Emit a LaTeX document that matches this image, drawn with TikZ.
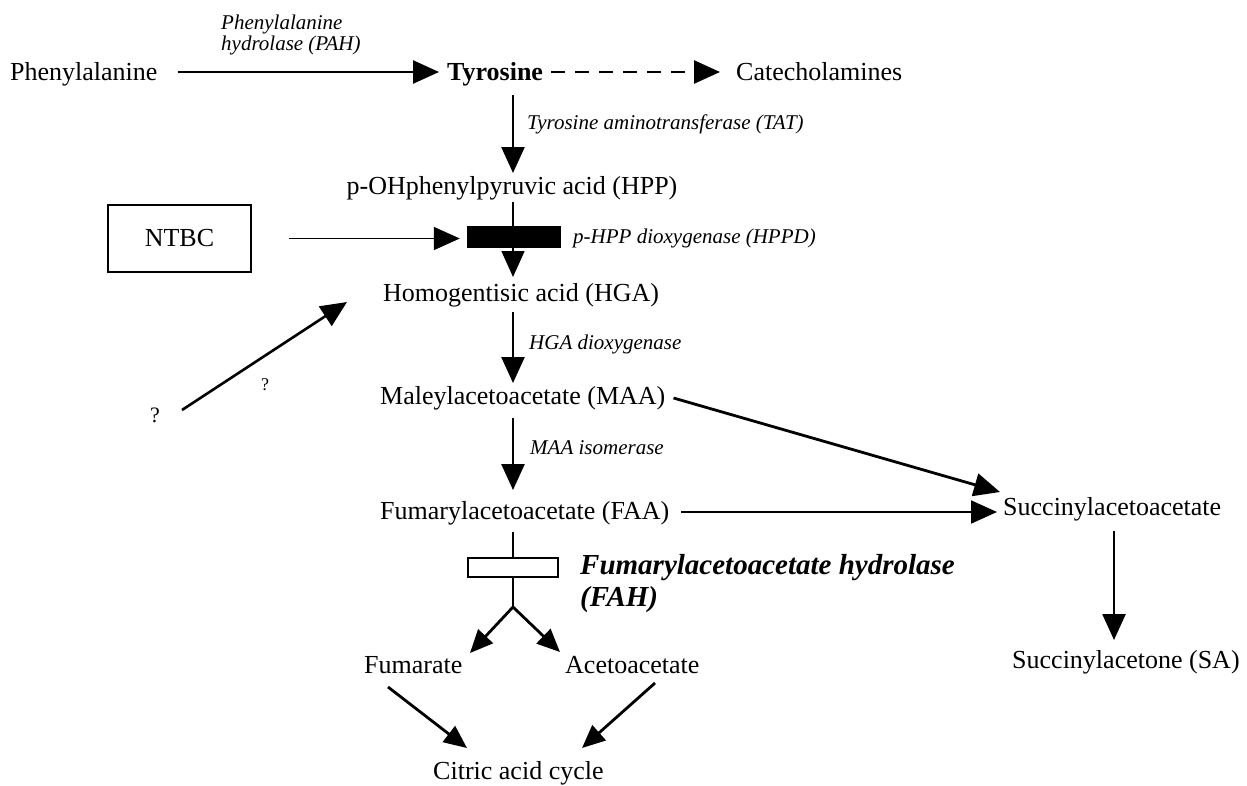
\documentclass[tikz,border=0pt]{standalone}
\usepackage{fontspec}
\setmainfont{Liberation Serif}
\usetikzlibrary{arrows.meta,calc}
\begin{document}
\begin{tikzpicture}[x=1pt,y=-1pt,
  txt/.style={inner sep=0pt, anchor=base west, font=\fontsize{26}{30}\selectfont},
  ctxt/.style={inner sep=0pt, anchor=base, font=\fontsize{26}{30}\selectfont},
  lbl/.style={inner sep=0pt, anchor=base west, align=left, font=\fontsize{21}{21}\selectfont\itshape},
  fahlbl/.style={inner sep=0pt, anchor=base west, align=left, font=\fontsize{29}{32}\selectfont\bfseries\itshape},
  arr/.style={line width=2.6pt, -{Triangle[length=26pt,width=23pt]}},
  thinarr/.style={line width=1.7pt, -{Triangle[length=26pt,width=23pt]}},
  forkarr/.style={line width=2.8pt, -{Triangle[length=23pt,width=20pt]}},
  dasharr/.style={line width=2.6pt, dash pattern=on 14pt off 10pt, -{Triangle[length=26pt,width=23pt]}},
  thinline/.style={line width=1.5pt},
  blockbar/.style={fill=black, draw=black, inner sep=0pt, minimum width=93pt, minimum height=21pt},
  openbar/.style={fill=white, draw=black, line width=2pt, inner sep=0pt, minimum width=90pt, minimum height=19pt},
  ntbcbox/.style={draw=black, line width=1.6pt, inner sep=0pt, minimum width=143pt, minimum height=67pt, font=\fontsize{26}{30}\selectfont}
]
\useasboundingbox[fill=white] (0,0) rectangle (1247,785);

\coordinate (spine) at (513,0);
\coordinate (sax) at (1114,0);

% nodes
\node[txt] (phe) at (10,80) {Phenylalanine};
\node[txt, font=\fontsize{26}{30}\selectfont\bfseries] (tyr) at (447,80) {Tyrosine};
\node[txt] (cat) at (736,80) {Catecholamines};
\node[lbl] (pah) at (221,50) {Phenylalanine\\hydrolase (PAH)};
\node[lbl] (tat) at (527,129) {Tyrosine aminotransferase (TAT)};
\node[ctxt] (hpp) at (512,194) {p-OHphenylpyruvic acid (HPP)};
\node[blockbar] (bar) at (513.5,236.5) {};
\node[lbl] (hppd) at (573,243) {p-HPP dioxygenase (HPPD)};
\node[ntbcbox] (ntbc) at (179.5,238.5) {NTBC};
\node[txt] (hga) at (383,301) {Homogentisic acid (HGA)};
\node[lbl] (hgad) at (529,349) {HGA dioxygenase};
\node[inner sep=0pt, font=\fontsize{22}{24}\selectfont] (q1) at (155,415) {?};
\node[inner sep=0pt, font=\fontsize{18}{20}\selectfont] (q2) at (265,385) {?};
\node[txt] (maa) at (380,404) {Maleylacetoacetate (MAA)};
\node[lbl] (maai) at (530,454) {MAA isomerase};
\node[txt] (faa) at (380,519) {Fumarylacetoacetate (FAA)};
\node[txt] (saa) at (1003,515) {Succinylacetoacetate};
\node[txt] (sa) at (1012,668) {Succinylacetone (SA)};
\node[openbar] (fah) at (513,567) {};
\node[fahlbl] (fahl) at (580,606) {Fumarylacetoacetate hydrolase\\(FAH)};
\coordinate (fork) at (513,607);
\node[txt] (fum) at (364,673) {Fumarate};
\node[txt] (aceto) at (565,673) {Acetoacetate};
\node[txt] (cit) at (433,779) {Citric acid cycle};

% connectors
\draw[arr] ($(phe.base east)+(20,-8)$) -- ($(tyr.base west)+(-8,-8)$);
\draw[dasharr] ($(tyr.base east)+(8,-8)$) -- ($(cat.base west)+(-16,-8)$);
\draw[arr] ($(tyr.base -| spine)+(0,15)$) -- ($(hpp.base -| spine)+(0,-21)$);
\draw[thinline, -{Triangle[length=26pt,width=23pt]}] ($(hpp.base -| spine)+(0,8)$) -- ($(hga.base -| spine)+(0,-24)$);
\node[blockbar] at (bar) {};
\draw[thinarr] ($(ntbc.east)+(37,0)$) -- ($(ntbc.east -| bar.west)+(-7,0)$);
\draw[arr] ($(hga.base -| spine)+(0,11)$) -- ($(maa.base -| spine)+(0,-21)$);
\draw[arr] ($(q1)+(27,-5)$) -- ($(hga.base west)+(-36,1)$);
\draw[arr] ($(maa.base -| spine)+(0,14)$) -- ($(faa.base -| spine)+(0,-29)$);
\draw[arr, line width=2.8pt] ($(maa.base east)+(8,-6)$) -- ($(saa.base west)+(-3,-23)$);
\draw[thinarr, line width=2pt] ($(faa.base east)+(12,-7)$) -- ($(faa.base east -| saa.base west)+(-6,-7)$);
\draw[arr] ($(saa.base -| sax)+(0,16)$) -- ($(sa.base -| sax)+(0,-28)$);
\draw[thinline] ($(faa.base -| spine)+(0,13)$) -- (fah.north);
\draw[thinline] (fah.south) -- (fork);
\draw[forkarr] (fork) -- ($(fum.base west)+(106,-20)$);
\draw[forkarr] (fork) -- ($(aceto.base west)+(-5,-21)$);
\draw[forkarr] ($(fum.base west)+(24,14)$) -- ($(cit.base west)+(34,-31)$);
\draw[forkarr] ($(aceto.base west)+(90,10)$) -- ($(cit.base west)+(149,-31)$);
\end{tikzpicture}
\end{document}
